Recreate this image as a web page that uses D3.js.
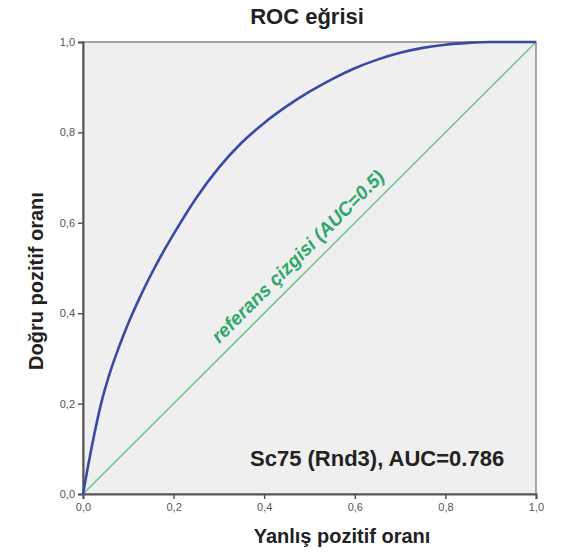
<!DOCTYPE html>
<html><head><meta charset="utf-8">
<script src="https://cdn.jsdelivr.net/npm/d3@7"></script>
<style>body{margin:0;background:#fff}svg{display:block}</style>
</head><body>
<svg id="c" width="561" height="556"></svg>
<script>
const title = "ROC eğrisi";
const xTitle = "Yanlış pozitif oranı";
const yTitle = "Doğru pozitif oranı";
const refLabel = "referans çizgisi (AUC=0.5)";
const aucLabel = "Sc75 (Rnd3), AUC=0.786";
const fpr = [0, 0.01, 0.02, 0.04, 0.06, 0.08, 0.10, 0.125, 0.15, 0.175, 0.20, 0.25, 0.30, 0.35, 0.40, 0.45, 0.50, 0.55, 0.60, 0.65, 0.70, 0.75, 0.80, 0.85, 0.90, 1.0];
const tpr = [0, 0.056, 0.108, 0.200, 0.270, 0.327, 0.378, 0.434, 0.485, 0.532, 0.575, 0.655, 0.722, 0.777, 0.821, 0.858, 0.890, 0.918, 0.942, 0.961, 0.976, 0.987, 0.994, 0.998, 1.0, 1.0];
const refX = [0, 1];
const refY = [0, 1];
const ticks = [0, 0.2, 0.4, 0.6, 0.8, 1.0];

const svg = d3.select("#c");
const L = 83, R = 536, T = 42, B = 494;
const x = d3.scaleLinear().domain([0, 1]).range([L, R]);
const y = d3.scaleLinear().domain([0, 1]).range([B, T]);
const fmt = d => d3.format(".1f")(d).replace(".", ",");
const font = "'Liberation Sans', Arial, sans-serif";

svg.append("rect").attr("x", L).attr("y", T).attr("width", R - L).attr("height", B - T)
  .attr("fill", "#efefef").attr("stroke", "#8a8a8a").attr("stroke-width", 1.5);

const xa = svg.append("g").attr("transform", `translate(0,${B})`)
  .call(d3.axisBottom(x).tickValues(ticks).tickFormat(fmt).tickSize(5).tickPadding(4));
const ya = svg.append("g").attr("transform", `translate(${L},0)`)
  .call(d3.axisLeft(y).tickValues(ticks).tickFormat(fmt).tickSize(5).tickPadding(3));
[xa, ya].forEach(a => {
  a.select(".domain").attr("stroke", "#555").attr("stroke-width", 2);
  a.selectAll(".tick line").attr("stroke", "#555").attr("stroke-width", 1.5);
  a.selectAll(".tick text").attr("fill", "#555").style("font-family", font).style("font-size", "11px");
});

// reference line
const pts = refX.map((v, i) => [v, refY[i]]);
svg.append("path").datum(pts)
  .attr("d", d3.line().x(d => x(d[0])).y(d => y(d[1])))
  .attr("fill", "none").attr("stroke", "#6cc48e").attr("stroke-width", 1.5);

// ROC curve
const roc = fpr.map((v, i) => [v, tpr[i]]);
svg.append("path").datum(roc)
  .attr("d", d3.line().x(d => x(d[0])).y(d => y(d[1])).curve(d3.curveMonotoneX))
  .attr("fill", "none").attr("stroke", "#3a4aa2").attr("stroke-width", 2.6);

// reference label
const ang = Math.atan2(y(1) - y(0), x(1) - x(0)) * 180 / Math.PI;
svg.append("text")
  .attr("transform", `translate(${x(0.5)},${y(0.5)}) rotate(${ang})`)
  .attr("dy", -10).attr("text-anchor", "middle")
  .style("font-family", font).style("font-size", "19px").style("font-weight", "bold").style("font-style", "italic")
  .attr("fill", "#2ea86c").text(refLabel);

svg.append("text").attr("x", 250).attr("y", 466)
  .style("font-family", font).style("font-size", "22px").style("font-weight", "bold")
  .attr("fill", "#222").text(aucLabel);

svg.append("text").attr("x", 307).attr("y", 24).attr("text-anchor", "middle")
  .style("font-family", font).style("font-size", "22px").style("font-weight", "bold")
  .attr("fill", "#222").text(title);

svg.append("text").attr("x", 342).attr("y", 543).attr("text-anchor", "middle")
  .style("font-family", font).style("font-size", "20px").style("font-weight", "bold")
  .attr("fill", "#222").text(xTitle);

svg.append("text").attr("transform", "translate(43,281) rotate(-90)").attr("text-anchor", "middle")
  .style("font-family", font).style("font-size", "20px").style("font-weight", "bold")
  .attr("fill", "#222").text(yTitle);
</script>
</body></html>
